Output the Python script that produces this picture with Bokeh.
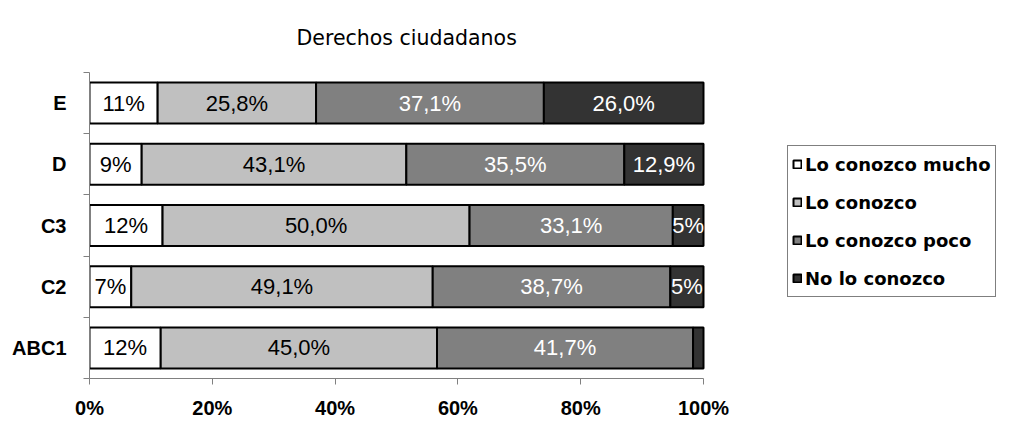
from bokeh.plotting import figure
from bokeh.models import ColumnDataSource, FixedTicker, Legend, LegendItem, LabelSet, Range1d
from bokeh.core.properties import value
from bokeh.embed import file_html
from bokeh.resources import INLINE

# ---- data (bottom to top) ----
categories = ["ABC1", "C2", "C3", "D", "E"]
series_names = ["Lo conozco mucho", "Lo conozco", "Lo conozco poco", "No lo conozco"]
mucho = [11.6, 6.8, 11.9, 8.5, 11.1]
conozco = [45.0, 49.1, 50.0, 43.1, 25.8]
poco = [41.7, 38.7, 33.1, 35.5, 37.1]
no_conozco = [1.7, 5.4, 5.0, 12.9, 26.0]
labels_mucho = ["12%", "7%", "12%", "9%", "11%"]
labels_conozco = ["45,0%", "49,1%", "50,0%", "43,1%", "25,8%"]
labels_poco = ["41,7%", "38,7%", "33,1%", "35,5%", "37,1%"]
labels_no = ["", "5%", "5%", "12,9%", "26,0%"]
x_ticks = [0, 20, 40, 60, 80, 100]
x_tick_labels = ["0%", "20%", "40%", "60%", "80%", "100%"]

colors = ["#FFFFFF", "#C0C0C0", "#808080", "#333333"]
text_colors = ["#000000", "#000000", "#FFFFFF", "#FFFFFF"]

values = [mucho, conozco, poco, no_conozco]
labels = [labels_mucho, labels_conozco, labels_poco, labels_no]

# layout (pixels)
W, H = 1001, 421
BL, BR, BT, BB = 89, 2, 70, 43
DATA_PX = 614  # width in px of the 0-100% span
frame_px = W - BL - BR
x_end = 100.0 * frame_px / DATA_PX

p = figure(width=W, height=H, output_backend="svg", toolbar_location=None,
           x_range=Range1d(0, x_end), y_range=Range1d(0, len(categories)),
           min_border_left=BL, min_border_right=BR, min_border_bottom=BB, min_border_top=BT)
p.outline_line_color = None
p.xgrid.visible = False
p.ygrid.visible = False

p.title.text = "Derechos ciudadanos"
p.title.align = "left"
p.title.offset = 207
p.title.standoff = 46
p.title.text_font = "DejaVu Sans"
p.title.text_font_style = "normal"
p.title.text_font_size = "20.5px"
p.title.text_color = "#000000"

ypos = [i + 0.5 for i in range(len(categories))]
left = [0.0] * len(categories)
items = []
for k, name in enumerate(series_names):
    vals = values[k]
    right = [l + v for l, v in zip(left, vals)]
    mid = [(l + r) / 2 for l, r in zip(left, right)]
    src = ColumnDataSource(dict(y=ypos, left=left, right=right, mid=mid, label=labels[k]))
    r = p.hbar(y="y", left="left", right="right", height=0.67, source=src,
               fill_color=colors[k], line_color="#000000", line_width=2)
    items.append(LegendItem(label=name, renderers=[r]))
    ls = LabelSet(x="mid", y="y", text="label", source=src, text_align="center",
                  text_baseline="middle", text_font=value("Liberation Sans"),
                  text_font_size=value("22px"), text_color=value(text_colors[k]))
    p.add_layout(ls)
    left = right

AXIS_COLOR = "#808080"

# x axis
xa = p.xaxis[0]
xa.ticker = FixedTicker(ticks=x_ticks, minor_ticks=[])
xa.bounds = (x_ticks[0], x_ticks[-1])
xa.major_label_overrides = {t: s for t, s in zip(x_ticks, x_tick_labels)}
xa.major_tick_out = 6
xa.major_tick_in = 0
xa.minor_tick_out = 0
xa.axis_line_color = AXIS_COLOR
xa.major_tick_line_color = AXIS_COLOR
xa.major_label_standoff = 12
xa.major_label_text_font = "Liberation Sans"
xa.major_label_text_font_style = "bold"
xa.major_label_text_font_size = "20px"
xa.major_label_text_color = "#000000"

# y axis
ya = p.yaxis[0]
ya.ticker = FixedTicker(ticks=ypos, minor_ticks=list(range(len(categories) + 1)))
ya.major_label_overrides = {y: c for y, c in zip(ypos, categories)}
ya.major_tick_out = 0
ya.major_tick_in = 0
ya.minor_tick_out = 6
ya.minor_tick_in = 0
ya.axis_line_color = AXIS_COLOR
ya.minor_tick_line_color = AXIS_COLOR
ya.major_label_standoff = 17
ya.major_label_text_font = "Liberation Sans"
ya.major_label_text_font_style = "bold"
ya.major_label_text_font_size = "20px"
ya.major_label_text_color = "#000000"

legend = Legend(items=items, location=(698, 81), orientation="vertical")
legend.border_line_color = "#000000"
legend.border_line_width = 1.5
legend.background_fill_color = "#FFFFFF"
legend.background_fill_alpha = 1.0
legend.label_text_font = "DejaVu Sans"
legend.label_text_font_style = "bold"
legend.label_text_font_size = "18px"
legend.label_text_color = "#000000"
legend.glyph_width = 10
legend.glyph_height = 10
legend.label_standoff = 3
legend.padding = 4
legend.spacing = 10
legend.label_height = 28
legend.margin = 0
p.add_layout(legend)

open("out.html", "w").write(file_html(p, INLINE))
